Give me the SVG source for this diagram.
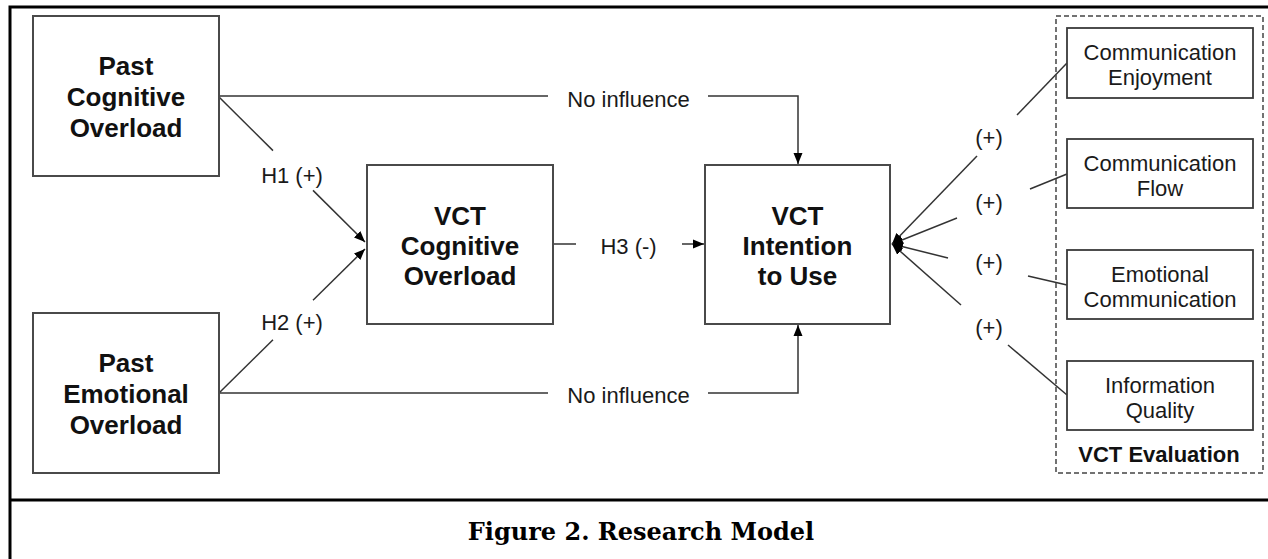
<svg xmlns="http://www.w3.org/2000/svg" width="1268" height="559" viewBox="0 0 1268 559">
<style>
.box{fill:#fff;stroke:#4a4a4a;stroke-width:2}
.sub{fill:#fff;stroke:#3a3a3a;stroke-width:1.8}
.c{fill:none;stroke:#333;stroke-width:1.5}
.frame{fill:none;stroke:#000;stroke-width:3}
.bt{font-family:"Liberation Sans",Arial,sans-serif;font-weight:bold;font-size:26px;fill:#111;text-anchor:middle}
.rt{font-family:"Liberation Sans",Arial,sans-serif;font-size:22px;fill:#1a1a1a;text-anchor:middle}
.lb{font-family:"Liberation Sans",Arial,sans-serif;font-size:22px;fill:#1a1a1a;text-anchor:middle}
.cap{font-family:"DejaVu Serif",Georgia,serif;font-weight:bold;font-size:24px;fill:#000;text-anchor:middle}
</style>
<defs>
<marker id="ah" markerUnits="userSpaceOnUse" markerWidth="12" markerHeight="10" refX="11" refY="5" orient="auto">
<path d="M0,0.5 L11,5 L0,9.5 z" fill="#000"/>
</marker>
</defs>
<rect width="1268" height="559" fill="#fff"/>
<g id="frame">
<path class="frame" d="M10,559 L10,7 L1268,7"/>
<line x1="10" y1="500" x2="1268" y2="500" stroke="#000" stroke-width="3"/>
</g>
<g id="connectors">
<path class="c" d="M219,97 L273,150.6"/>
<path class="c" d="M313,190.4 L365,242" marker-end="url(#ah)"/>
<path class="c" d="M219,393 L273,339.7"/>
<path class="c" d="M313,300.3 L365,249" marker-end="url(#ah)"/>
<path class="c" d="M219,96 L548,96"/>
<path class="c" d="M708,96 L798,96 L798,164" marker-end="url(#ah)"/>
<path class="c" d="M219,393 L548,393"/>
<path class="c" d="M708,393 L798,393 L798,325" marker-end="url(#ah)"/>
<path class="c" d="M553,244 L576,244"/>
<path class="c" d="M682,244 L704,244" marker-end="url(#ah)"/>
<path class="c" d="M1067,63 L1017,115"/>
<path class="c" d="M977,156 L892,244" marker-end="url(#ah)"/>
<path class="c" d="M1067,174 L1030,189"/>
<path class="c" d="M957,218 L892,244" marker-end="url(#ah)"/>
<path class="c" d="M1067,285 L1028,276"/>
<path class="c" d="M948,258 L892,244" marker-end="url(#ah)"/>
<path class="c" d="M1067,395 L1008,345"/>
<path class="c" d="M961,305 L892,244" marker-end="url(#ah)"/>
<text class="lb" x="292" y="183">H1 (+)</text>
<text class="lb" x="292" y="330">H2 (+)</text>
<text class="lb" x="628.5" y="107">No influence</text>
<text class="lb" x="628.5" y="403">No influence</text>
<text class="lb" x="628.5" y="254">H3 (-)</text>
<text class="lb" x="989" y="145">(+)</text>
<text class="lb" x="989" y="210">(+)</text>
<text class="lb" x="989" y="270">(+)</text>
<text class="lb" x="989" y="335">(+)</text>
</g>
<g id="past-cognitive">
<rect class="box" x="33" y="16" width="186" height="160"/>
<text class="bt" x="126" y="75">Past</text>
<text class="bt" x="126" y="106">Cognitive</text>
<text class="bt" x="126" y="137">Overload</text>
</g>
<g id="past-emotional">
<rect class="box" x="33" y="313" width="186" height="160"/>
<text class="bt" x="126" y="372">Past</text>
<text class="bt" x="126" y="403">Emotional</text>
<text class="bt" x="126" y="434">Overload</text>
</g>
<g id="vct-cognitive">
<rect class="box" x="367" y="165" width="186" height="159"/>
<text class="bt" x="460" y="225">VCT</text>
<text class="bt" x="460" y="255">Cognitive</text>
<text class="bt" x="460" y="285">Overload</text>
</g>
<g id="vct-intention">
<rect class="box" x="705" y="165" width="185" height="159"/>
<text class="bt" x="797.5" y="225">VCT</text>
<text class="bt" x="797.5" y="255">Intention</text>
<text class="bt" x="797.5" y="285">to Use</text>
</g>
<g id="vct-evaluation">
<rect x="1056" y="16" width="207" height="457" fill="none" stroke="#444" stroke-width="1.5" stroke-dasharray="5,3"/>
<text x="1159" y="462" font-family="Liberation Sans, Arial, sans-serif" font-weight="bold" font-size="22" fill="#111" text-anchor="middle">VCT Evaluation</text>
</g>
<g id="communication-enjoyment">
<rect class="sub" x="1067" y="28" width="186" height="70"/>
<text class="rt" x="1160" y="60">Communication</text>
<text class="rt" x="1160" y="85">Enjoyment</text>
</g>
<g id="communication-flow">
<rect class="sub" x="1067" y="139" width="186" height="69"/>
<text class="rt" x="1160" y="171">Communication</text>
<text class="rt" x="1160" y="196">Flow</text>
</g>
<g id="emotional-communication">
<rect class="sub" x="1067" y="250" width="186" height="69"/>
<text class="rt" x="1160" y="282">Emotional</text>
<text class="rt" x="1160" y="307">Communication</text>
</g>
<g id="information-quality">
<rect class="sub" x="1067" y="361" width="186" height="69"/>
<text class="rt" x="1160" y="393">Information</text>
<text class="rt" x="1160" y="418">Quality</text>
</g>
<g id="caption">
<text class="cap" x="641" y="540">Figure 2. Research Model</text>
</g>
</svg>
